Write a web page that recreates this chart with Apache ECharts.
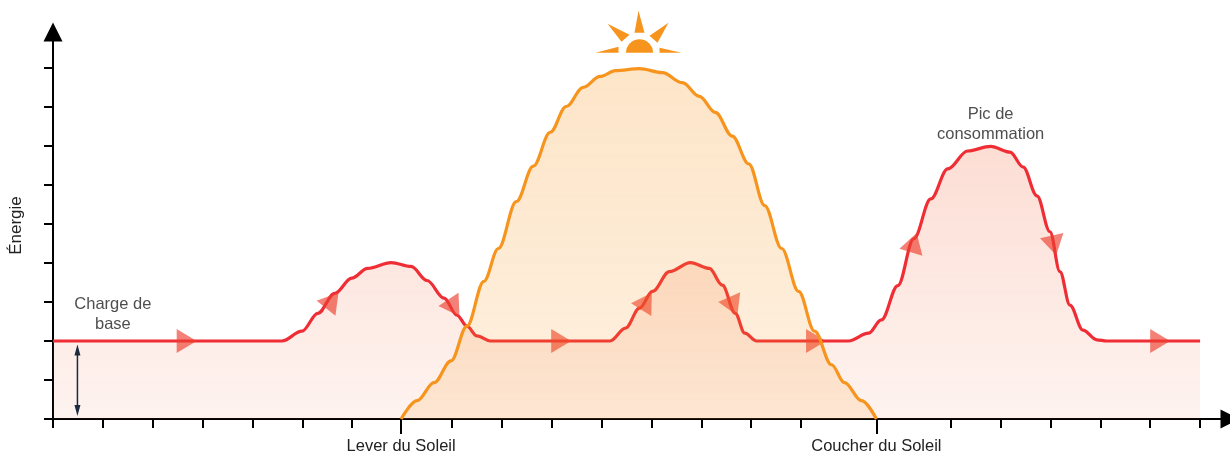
<!DOCTYPE html>
<html>
<head>
<meta charset="utf-8">
<title>Énergie</title>
<style>
html, body { margin: 0; background: #fff; }
#chart { width: 1230px; height: 455px; }
</style>
<script src="https://cdn.jsdelivr.net/npm/echarts@6/dist/echarts.min.js"></script>
</head>
<body>
<div id="chart"></div>
<script>
// one x unit = one short tick, one y unit = one tick
const consumption = [
  [0, 2], [4.59, 2], [4.99, 2.25], [5.31, 2.71], [5.65, 3.22], [5.99, 3.61], [6.31, 3.86], [6.78, 4.01],
  [7.18, 3.91], [7.5, 3.55], [7.84, 3.1], [8.1, 2.66], [8.3, 2.38], [8.5, 2.13], [8.77, 2], [11.17, 2],
  [11.48, 2.33], [11.76, 2.84], [12.02, 3.27], [12.36, 3.78], [12.78, 4.01], [13.16, 3.86], [13.42, 3.43],
  [13.68, 2.71], [13.87, 2.2], [14.11, 2], [15.95, 2], [16.35, 2.2], [16.61, 2.54], [16.94, 3.42],
  [17.26, 4.62], [17.6, 5.64], [17.94, 6.41], [18.34, 6.87], [18.8, 6.99], [19.19, 6.84], [19.45, 6.46],
  [19.73, 5.72], [19.99, 4.8], [20.19, 3.78], [20.39, 2.92], [20.65, 2.28], [20.93, 2.03], [21.13, 2], [23, 2]
];
const solar = [
  [6.98, 0], [7.3, 0.47], [7.64, 0.93], [7.98, 1.49], [8.3, 2.38], [8.64, 3.53], [8.93, 4.37], [9.29, 5.57],
  [9.63, 6.48], [9.97, 7.35], [10.29, 8.01], [10.63, 8.5], [10.97, 8.78], [11.28, 8.93], [11.76, 8.98],
  [12.22, 8.88], [12.62, 8.62], [12.96, 8.27], [13.28, 7.86], [13.62, 7.25], [13.95, 6.54], [14.27, 5.47],
  [14.61, 4.37], [14.95, 3.27], [15.27, 2.25], [15.61, 1.39], [15.87, 0.93], [16.21, 0.47], [16.51, 0]
];
const arrowX = [2.68, 5.6, 8.04, 10.19, 11.9, 13.64, 15.3, 17.26, 20.07, 22.2];
const arrowY = [2, 3.04, 2.85, 2, 3.02, 2.89, 2, 4.52, 4.45, 2];
const arrowAngle = [-90, -38.6, -146.7, -90, -32.3, -156.3, -90, -16.7, -167, -90];
const baseSpan = [[0.49, 0.22], [0.49, 1.77]];
const notes = [[1.2, 2.68, 'Charge de\nbase'], [18.8, 7.55, 'Pic de\nconsommation']];
const sunAt = [[11.76, 9.39]];
const shortTicksX = [0, 1, 2, 3, 4, 5, 6, 8, 9, 10, 11, 12, 13, 14, 15, 18, 19, 20, 21, 22, 23];
const longTicksX = [6.98, 16.51];
const longTickLabels = ['Lever du Soleil', 'Coucher du Soleil'];
const ticksY = [0, 1, 2, 3, 4, 5, 6, 7, 8, 9];

const font = 'Liberation Sans';
const red = '#ee2d35';
const orange = '#f7941d';

var chartDom = document.getElementById('chart');
var myChart = echarts.init(chartDom);

function fade(r, g, b, top, bottom) {
  return new echarts.graphic.LinearGradient(0, 0, 0, 1, [
    { offset: 0, color: 'rgba(' + r + ',' + g + ',' + b + ',' + top + ')' },
    { offset: 1, color: 'rgba(' + r + ',' + g + ',' + b + ',' + bottom + ')' }
  ]);
}

// rays and half disc around the anchor, in pixels
const rays = [
  [[-1, -42], [-5, -20], [5, -20]],
  [[-32, -29], [-10, -18], [-18, -11]],
  [[29, -30], [10, -17], [18, -10]],
  [[-44, 0], [-21, -6], [-21, 0]],
  [[42, 0], [20, -5], [20, 0]]
];
function drawSun(params, api) {
  const c = api.coord([api.value(0), api.value(1)]);
  const style = { fill: orange };
  const shapes = rays.map(function (ray) {
    return {
      type: 'polygon',
      shape: { points: ray.map(function (p) { return [c[0] + p[0], c[1] + p[1]]; }) },
      style: style
    };
  });
  shapes.push({
    type: 'sector',
    shape: { cx: c[0], cy: c[1], r: 13.5, r0: 0, startAngle: Math.PI, endAngle: Math.PI * 2 },
    style: style
  });
  return { type: 'group', children: shapes };
}

myChart.setOption({
  animation: false,
  grid: { left: 46.5, top: 32, width: 1184.5, height: 389.5 },
  xAxis: [
    {
      type: 'value', min: 0, max: 23.6,
      splitLine: { show: false },
      axisLine: {
        show: true, onZero: false,
        lineStyle: { color: '#000', width: 2 },
        symbol: ['none', 'triangle'], symbolSize: [19, 19]
      },
      axisTick: { show: true, customValues: shortTicksX, length: 9, lineStyle: { color: '#000', width: 2 } },
      axisLabel: { show: false }
    },
    {
      type: 'value', min: 0, max: 23.6, position: 'bottom',
      splitLine: { show: false },
      axisLine: { show: false },
      axisTick: { show: true, customValues: longTicksX, length: 15, lineStyle: { color: '#000', width: 2 } },
      axisLabel: {
        show: true, customValues: longTicksX, margin: 19,
        fontFamily: font, fontSize: 16.5, color: '#222',
        formatter: function (v) { return longTickLabels[longTicksX.indexOf(v)]; }
      }
    }
  ],
  yAxis: {
    type: 'value', min: 0, max: 9.92,
    name: 'Énergie', nameLocation: 'middle', nameGap: 28,
    nameTextStyle: { fontFamily: font, fontSize: 17, color: '#222' },
    splitLine: { show: false },
    axisLine: {
      show: true, onZero: false,
      lineStyle: { color: '#000', width: 2 },
      symbol: ['none', 'triangle'], symbolSize: [19, 19]
    },
    axisTick: { show: true, customValues: ticksY, length: 9, lineStyle: { color: '#000', width: 2 } },
    axisLabel: { show: false }
  },
  series: [
    {
      name: 'Consommation', type: 'line', z: 2, data: consumption,
      smooth: 0.35, smoothMonotone: 'x', showSymbol: false,
      lineStyle: { color: red, width: 3.2, cap: 'butt' },
      areaStyle: { color: fade(241, 90, 41, 0.29, 0.1) }
    },
    {
      name: 'Flèches', type: 'scatter', z: 3,
      data: arrowX.map(function (x, i) {
        return { value: [x, arrowY[i]], symbolRotate: arrowAngle[i] };
      }),
      symbol: 'triangle', symbolSize: [24, 20],
      itemStyle: { color: 'rgba(237,62,48,0.82)' }
    },
    {
      name: 'Charge de base', type: 'line', z: 3,
      data: baseSpan.map(function (p, i) {
        return { value: p, symbolRotate: i == 0 ? 180 : 0 };
      }),
      symbol: 'triangle', symbolSize: [6, 11], showSymbol: true,
      lineStyle: { color: '#1b2a3d', width: 1.5 },
      itemStyle: { color: '#1b2a3d' }
    },
    {
      name: 'Production', type: 'line', z: 4, data: solar,
      smooth: 0.35, smoothMonotone: 'x', showSymbol: false,
      lineStyle: { color: orange, width: 3.2 },
      areaStyle: { color: fade(247, 148, 29, 0.35, 0.2) }
    },
    {
      name: 'Notes', type: 'scatter', z: 5,
      data: notes.map(function (n) { return { value: [n[0], n[1]], text: n[2] }; }),
      symbolSize: 0,
      label: {
        show: true, position: 'inside', align: 'center', verticalAlign: 'middle',
        fontFamily: font, fontSize: 16.5, lineHeight: 20, color: '#222',
        formatter: function (p) { return p.data.text; }
      }
    },
    {
      name: 'Soleil', type: 'custom', z: 5, data: sunAt,
      renderItem: drawSun, clip: false
    }
  ]
});
</script>
</body>
</html>
